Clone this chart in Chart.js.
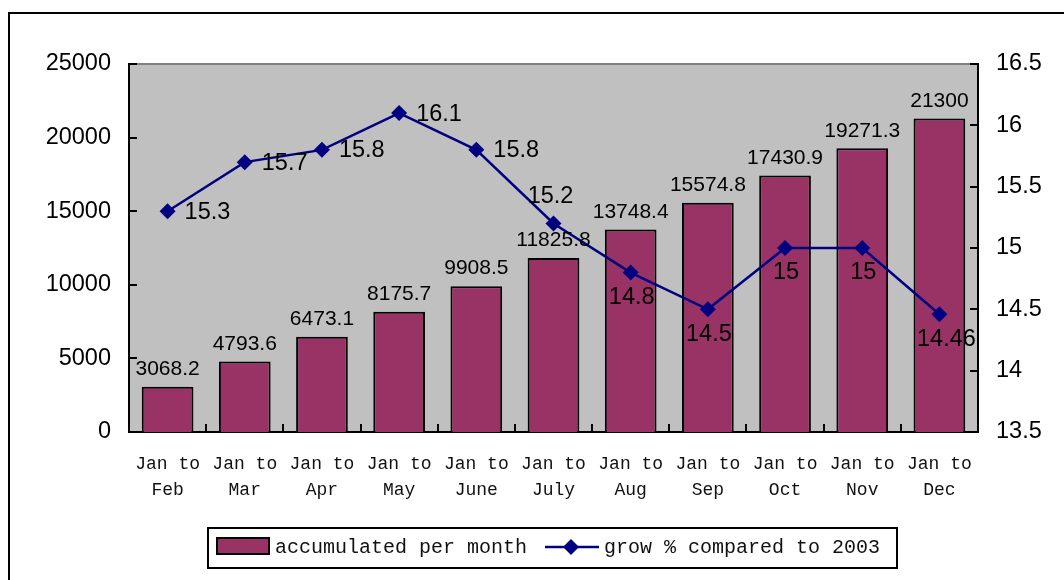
<!DOCTYPE html>
<html>
<head>
<meta charset="utf-8">
<script src="https://cdn.jsdelivr.net/npm/chart.js@4/dist/chart.umd.min.js"></script>
<style>
  html, body { margin: 0; padding: 0; background: #fff; }
  #wrap { width: 1064px; height: 580px; }
</style>
</head>
<body>
<div id="wrap"><canvas id="growthChart" width="1064" height="580"></canvas></div>
<script>
// chart data //
const categories = [
    ['Jan to', 'Feb'], ['Jan to', 'Mar'], ['Jan to', 'Apr'], ['Jan to', 'May'],
    ['Jan to', 'June'], ['Jan to', 'July'], ['Jan to', 'Aug'], ['Jan to', 'Sep'],
    ['Jan to', 'Oct'], ['Jan to', 'Nov'], ['Jan to', 'Dec']
];
const accumulated = [3068.2, 4793.6, 6473.1, 8175.7, 9908.5, 11825.8, 13748.4, 15574.8, 17430.9, 19271.3, 21300];
const growth = [15.3, 15.7, 15.8, 16.1, 15.8, 15.2, 14.8, 14.5, 15, 15, 14.46];
const growthLabelText = ['15.3', '15.7', '15.8', '16.1', '15.8', '15.2', '14.8', '14.5', '15', '15', '14.46'];

// where each growth label sits relative to its point
const growthLabelSide = ['right', 'right', 'right', 'right', 'right', 'above', 'below', 'below', 'below', 'below', 'below'];

const monoFont = '"Liberation Mono", "DejaVu Sans Mono", monospace';
const numFont = 'Arial, "Liberation Sans", sans-serif';

// gray plot area + outer frame
const backgroundPlugin = {
    id: 'background',
    beforeDraw(chart) {
        const { ctx, chartArea: a } = chart;
        ctx.save();
        ctx.fillStyle = '#fff';
        ctx.fillRect(0, 0, chart.width, chart.height);
        ctx.strokeStyle = '#000';
        ctx.lineWidth = 2;
        ctx.strokeRect(9, 13, 1070, 600);
        ctx.fillStyle = '#c0c0c0';
        ctx.fillRect(a.left, a.top, a.right - a.left, a.bottom - a.top);
        ctx.strokeStyle = '#808080';
        ctx.beginPath();
        ctx.moveTo(a.left, a.top);
        ctx.lineTo(a.right, a.top);
        ctx.stroke();
        ctx.restore();
    }
};

// tick marks drawn inward, value labels and legend
const overlayPlugin = {
    id: 'overlay',
    afterDraw(chart) {
        const { ctx, chartArea: a, scales } = chart;
        ctx.save();
        ctx.strokeStyle = '#000';
        ctx.lineWidth = 2;
        ctx.beginPath();
        scales.y.ticks.forEach((t, i) => {
            const py = Math.round(scales.y.getPixelForTick(i));
            ctx.moveTo(a.left, py);
            ctx.lineTo(a.left + 8, py);
        });
        scales.y1.ticks.forEach((t, i) => {
            const py = Math.round(scales.y1.getPixelForTick(i));
            ctx.moveTo(a.right - 8, py);
            ctx.lineTo(a.right, py);
        });
        const step = (a.right - a.left) / categories.length;
        for (let i = 1; i < categories.length; i++) {
            const px = Math.round(a.left + i * step);
            ctx.moveTo(px, a.bottom);
            ctx.lineTo(px, a.bottom - 8);
        }
        ctx.stroke();

        // bar labels
        ctx.fillStyle = '#000';
        ctx.font = '21px ' + numFont;
        ctx.textAlign = 'center';
        ctx.textBaseline = 'bottom';
        chart.getDatasetMeta(1).data.forEach((bar, i) => {
            ctx.fillText(String(accumulated[i]), bar.x, bar.y - 7);
        });

        // line labels
        ctx.font = '23.5px ' + numFont;
        chart.getDatasetMeta(0).data.forEach((pt, i) => {
            const side = growthLabelSide[i];
            if (side === 'right') {
                ctx.textAlign = 'left';
                ctx.textBaseline = 'middle';
                ctx.fillText(growthLabelText[i], pt.x + 17, pt.y + 1);
            } else if (side === 'above') {
                ctx.textAlign = 'center';
                ctx.textBaseline = 'middle';
                ctx.fillText(growthLabelText[i], pt.x - 3, pt.y - 27);
            } else {
                ctx.textAlign = 'center';
                ctx.textBaseline = 'middle';
                ctx.fillText(growthLabelText[i], pt.x + (growthLabelText[i].length > 4 ? 7 : 1), pt.y + 25);
            }
        });

        // legend
        const ds = chart.data.datasets;
        ctx.lineWidth = 2;
        ctx.strokeStyle = '#000';
        ctx.strokeRect(208, 528, 689, 40);
        ctx.fillStyle = ds[1].backgroundColor;
        ctx.fillRect(217, 538, 52, 16);
        ctx.strokeRect(217, 538, 52, 16);
        ctx.font = '20px ' + monoFont;
        ctx.fillStyle = '#111';
        ctx.textAlign = 'left';
        ctx.textBaseline = 'middle';
        ctx.fillText(ds[1].label, 275, 548);
        ctx.strokeStyle = ds[0].borderColor;
        ctx.lineWidth = 2.5;
        ctx.beginPath();
        ctx.moveTo(545, 547);
        ctx.lineTo(599, 547);
        ctx.stroke();
        ctx.fillStyle = ds[0].borderColor;
        ctx.beginPath();
        ctx.moveTo(571, 539);
        ctx.lineTo(579, 547);
        ctx.lineTo(571, 555);
        ctx.lineTo(563, 547);
        ctx.closePath();
        ctx.fill();
        ctx.fillStyle = '#111';
        ctx.fillText(ds[0].label, 604, 548);
        ctx.restore();
    }
};

function renderGrowthChart() {
    const ctx = document.getElementById('growthChart').getContext('2d');
    new Chart(ctx, {
        data: {
            labels: categories,
            datasets: [{
                type: 'line',
                label: 'grow % compared to 2003',
                data: growth,
                yAxisID: 'y1',
                borderColor: '#000080',
                backgroundColor: '#000080',
                borderWidth: 2.5,
                pointStyle: 'rectRot',
                pointRadius: 8,
                pointBorderWidth: 0,
                tension: 0,
                order: 0
            }, {
                type: 'bar',
                label: 'accumulated per month',
                data: accumulated,
                yAxisID: 'y',
                backgroundColor: '#993366',
                borderColor: '#000',
                borderWidth: 2,
                barPercentage: 0.67,
                categoryPercentage: 1,
                order: 1
            }]
        },
        options: {
            responsive: false,
            animation: false,
            layout: { padding: { top: 64, left: 0, right: 0, bottom: 0 } },
            plugins: { legend: { display: false }, tooltip: { enabled: false } },
            scales: {
                x: {
                    offset: true,
                    grid: { display: false, drawTicks: false },
                    border: { color: '#000', width: 2 },
                    ticks: {
                        font: { family: monoFont, size: 18, lineHeight: 1.45 },
                        color: '#111',
                        padding: 19,
                        maxRotation: 0,
                        autoSkip: false
                    },
                    afterFit: s => { s.height = 148; }
                },
                y: {
                    position: 'left',
                    min: 0,
                    max: 25000,
                    grid: { display: false, drawTicks: false },
                    border: { color: '#000', width: 2 },
                    ticks: {
                        stepSize: 5000,
                        font: { family: numFont, size: 23.5 },
                        color: '#000',
                        padding: 18,
                        callback: v => String(v)
                    },
                    afterFit: s => { s.width = 129; }
                },
                y1: {
                    position: 'right',
                    min: 13.5,
                    max: 16.5,
                    grid: { display: false, drawTicks: false },
                    border: { color: '#000', width: 2 },
                    ticks: {
                        stepSize: 0.5,
                        font: { family: numFont, size: 23.5 },
                        color: '#000',
                        padding: 18,
                        callback: v => String(v)
                    },
                    afterFit: s => { s.width = 86; }
                }
            }
        },
        plugins: [backgroundPlugin, overlayPlugin]
    });
}

document.addEventListener('DOMContentLoaded', renderGrowthChart);
</script>
</body>
</html>
